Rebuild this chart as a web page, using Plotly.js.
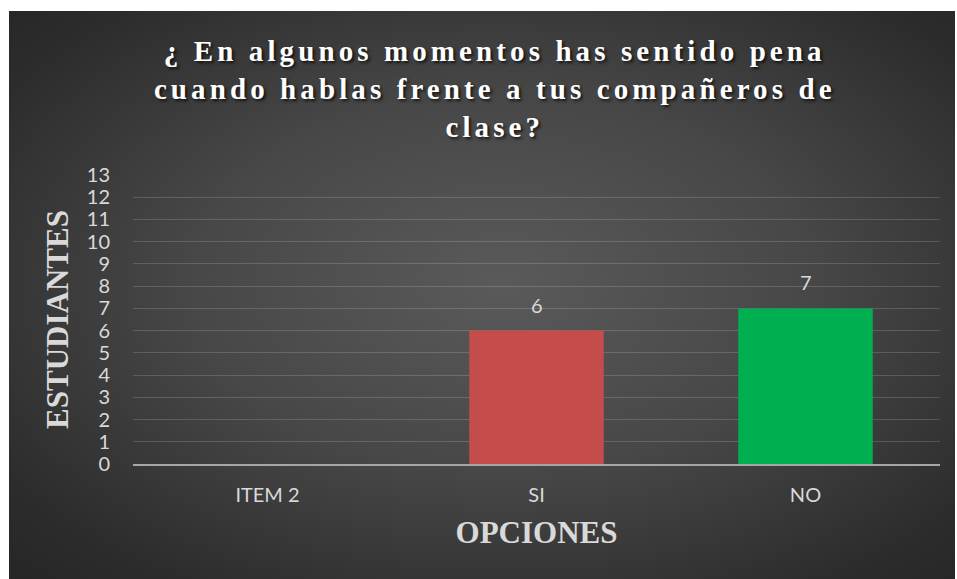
<!DOCTYPE html>
<html>
<head>
<meta charset="utf-8">
<script src="https://cdn.plot.ly/plotly-3.0.1.min.js"></script>
<style>
  html, body { margin: 0; padding: 0; background: #ffffff; width: 957px; height: 579px; overflow: hidden; }
  #bg { position: absolute; left: 9px; top: 11px; width: 946px; height: 568px;
        background: radial-gradient(ellipse farthest-corner at 52% 48%, #5a5a5a 0%, #474747 45%, #2c2c2c 85%, #262626 100%); }
  #chart { position: absolute; left: 0; top: 0; width: 957px; height: 579px; }
  .gtitle { letter-spacing: 4.1px; }
</style>
</head>
<body>
<div id="bg"></div>
<div id="chart"></div>
<script>
const categories = ["ITEM 2", "SI", "NO"];
const values = [0, 6, 7];
const labels = ["", "6", "7"];
const barColors = ["#4f81bd", "#c44d4b", "#00b050"];
const yTicks = [0,1,2,3,4,5,6,7,8,9,10,11,12,13];
const chartTitle = "¿ En algunos momentos has sentido pena<br>cuando hablas frente a tus compañeros de<br>clase?";
const xTitle = "OPCIONES";
const yTitle = "ESTUDIANTES";

const tickFont = { family: "Lato, 'Open Sans', sans-serif", size: 20, color: "#d9d9d9" };

const trace = {
  type: "bar",
  x: categories,
  y: values,
  marker: { color: barColors, line: { width: 0 } },
  hoverinfo: "x+y"
};

const annotations = categories.map((c, i) => ({
  x: c, y: values[i], xref: "x", yref: "y",
  text: labels[i], showarrow: false,
  yanchor: "bottom", yshift: 12,
  font: tickFont
}));

const layout = {
  width: 957, height: 579,
  paper_bgcolor: "rgba(0,0,0,0)",
  plot_bgcolor: "rgba(0,0,0,0)",
  margin: { l: 133, r: 17, t: 175, b: 115 },
  bargap: 0.5,
  showlegend: false,
  annotations: annotations,
  title: {
    text: chartTitle,
    x: 0.517, xanchor: "center",
    y: 0.894, yanchor: "top", yref: "container",
    font: { family: "'Liberation Serif', 'Times New Roman', serif", size: 29, color: "#ffffff", weight: "bold", shadow: "2px 2px 3px rgba(0,0,0,0.7)" }
  },
  xaxis: {
    type: "category",
    showgrid: false,
    showline: true, linecolor: "#a6a6a6", linewidth: 2,
    ticks: "",
    ticklabelstandoff: 12,
    tickfont: tickFont,
    title: { text: xTitle, standoff: 16, font: { family: "'Liberation Serif', 'Times New Roman', serif", size: 31, color: "#d9d9d9", weight: "bold" } }
  },
  yaxis: {
    range: [0, 13],
    tickvals: yTicks,
    ticktext: yTicks.map(String),
    showgrid: true, gridcolor: "rgba(255,255,255,0.16)", gridwidth: 1,
    zeroline: false,
    showline: false,
    ticks: "",
    ticklabelstandoff: 22,
    tickfont: tickFont,
    title: { text: yTitle, standoff: 8, font: { family: "'Liberation Serif', 'Times New Roman', serif", size: 31, color: "#d9d9d9", weight: "bold" } }
  }
};

Plotly.newPlot("chart", [trace], layout, { displayModeBar: false, staticPlot: true });
</script>
</body>
</html>
